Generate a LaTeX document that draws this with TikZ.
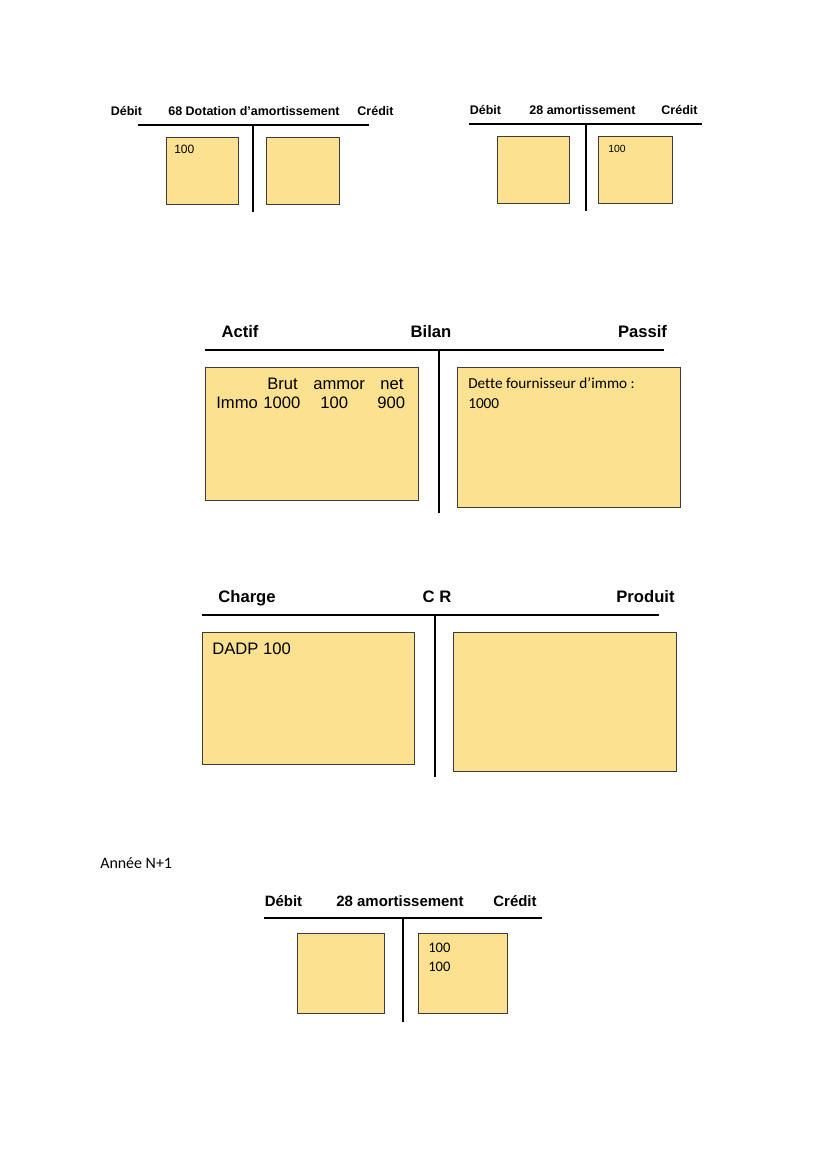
\documentclass[tikz,border=0pt]{standalone}
\usepackage{fontspec}
\setmainfont{Liberation Sans}
\newfontfamily\calibri[Ligatures=NoCommon]{Carlito}
\definecolor{postit}{HTML}{FCE190}
\definecolor{postitline}{HTML}{3C3C3C}
\begin{document}
\begin{tikzpicture}[x=0.2536mm,y=-0.2536mm,
	tbar/.style={line width=1.1pt},
	box/.style={fill=postit,draw=postitline,line width=0.5pt},
	hsmall/.style={anchor=base,inner sep=0pt,font=\fontsize{9}{11}\selectfont\bfseries},
	hmid/.style={anchor=base,inner sep=0pt,font=\fontsize{10.8}{13}\selectfont\bfseries},
	hbig/.style={anchor=base,inner sep=0pt,font=\fontsize{12}{14}\selectfont\bfseries},
	txt/.style={anchor=base west,inner sep=0pt}]
	\useasboundingbox (0,0) rectangle (828,1171);
	% 68 Dotation d'amortissement
	\node[hsmall] (d1) at (126.5,115) {Débit};
	\node[hsmall] (t1) at (254,115) {68 Dotation d’amortissement};
	\node[hsmall] (c1) at (375.5,115) {Crédit};
	\draw[tbar] (138,125) -- (369,125);
	\draw[tbar] (253,125) -- (253,212);
	\filldraw[box] (166,137) rectangle (238,204);
	\filldraw[box] (266,137) rectangle (339,204);
	\node[txt,font=\fontsize{8.7}{10}\selectfont] (v1) at (174,153) {100};
	% 28 amortissement
	\node[hsmall] (d2) at (485.5,114) {Débit};
	\node[hsmall] (t2) at (582.5,114) {28 amortissement};
	\node[hsmall] (c2) at (679.5,114) {Crédit};
	\draw[tbar] (469,124) -- (702,124);
	\draw[tbar] (586,124) -- (586,211);
	\filldraw[box] (497,136) rectangle (569,203);
	\filldraw[box] (598,136) rectangle (672,203);
	\node[txt,font=\fontsize{7.5}{9}\selectfont] (v2) at (608,152) {100};
	% Bilan
	\node[hbig] (actif) at (240,337) {Actif};
	\node[hbig] (bilan) at (431,337) {Bilan};
	\node[hbig] (passif) at (642.5,337) {Passif};
	\draw[tbar] (205,350) -- (664,350);
	\draw[tbar] (439,350) -- (439,513);
	\filldraw[box] (205,367) rectangle (418,500);
	\filldraw[box] (457,367) rectangle (680,507);
	\begin{scope}[every node/.style={txt,font=\fontsize{12}{14}\selectfont}]
		\node (brut) at (267,389) {Brut};
		\node (ammor) at (313,389) {ammor};
		\node (net) at (380,389) {net};
		\node (immo) at (216,408) {Immo};
		\node (ib) at (263,408) {1000};
		\node (ia) at (320,408) {100};
		\node (in) at (377,408) {900};
	\end{scope}
	\node[txt,font=\calibri\fontsize{11}{13}\selectfont] (dette) at (468,388) {Dette fournisseur d’immo :};
	\node[txt,font=\calibri\fontsize{11}{13}\selectfont] (dv) at (468,408) {1000};
	% C R
	\node[hbig] (charge) at (247,602) {Charge};
	\node[hbig] (cr) at (437,602) {C R};
	\node[hbig] (produit) at (645.5,602) {Produit};
	\draw[tbar] (202,615) -- (659,615);
	\draw[tbar] (435,615) -- (435,777);
	\filldraw[box] (202,632) rectangle (414,764);
	\filldraw[box] (453,632) rectangle (676,771);
	\node[txt,font=\fontsize{12}{14}\selectfont] (dadp) at (212,654) {DADP 100};
	% Annee N+1
	\node[txt,font=\calibri\fontsize{11.5}{13}\selectfont] (annee) at (100,868) {Année N+1};
	\node[hmid] (d3) at (283.5,906) {Débit};
	\node[hmid] (t3) at (400,906) {28 amortissement};
	\node[hmid] (c3) at (515,906) {Crédit};
	\draw[tbar] (264,918) -- (542,918);
	\draw[tbar] (403,918) -- (403,1022);
	\filldraw[box] (297,933) rectangle (384,1013);
	\filldraw[box] (418,933) rectangle (507,1013);
	\node[txt,font=\calibri\fontsize{10.5}{12}\selectfont] (v3) at (428,952) {100};
	\node[txt,font=\calibri\fontsize{10.5}{12}\selectfont] (v4) at (428,971) {100};
\end{tikzpicture}
\end{document}
